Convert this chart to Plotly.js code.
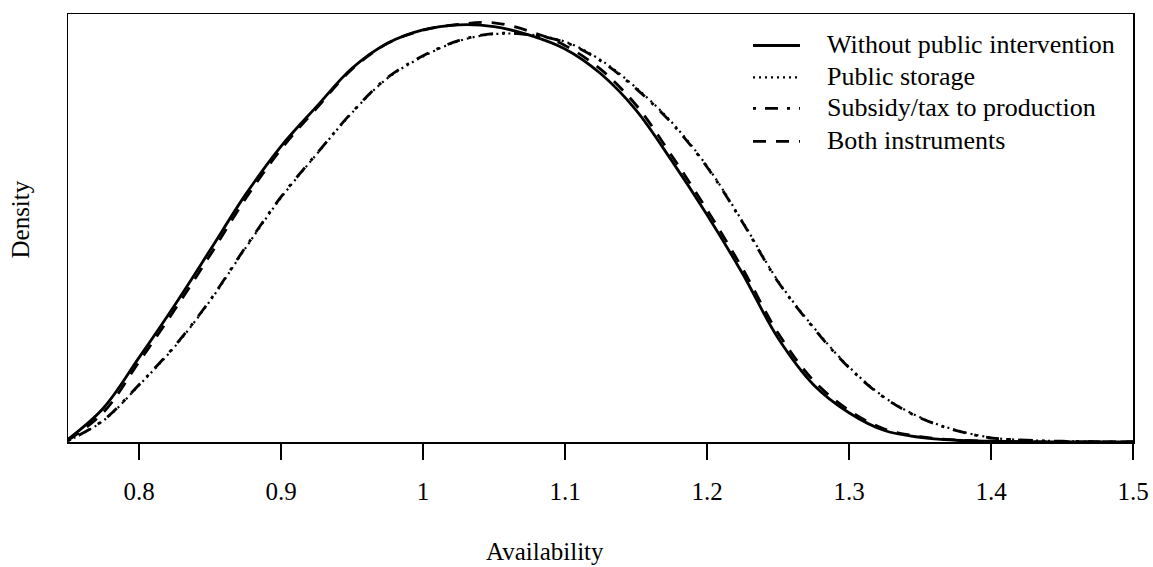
<!DOCTYPE html>
<html>
<head>
<meta charset="utf-8">
<script src="https://cdn.plot.ly/plotly-3.0.1.min.js"></script>
<style>
html,body{margin:0;padding:0;background:#fff;}
#chart{width:1153px;height:567px;}
</style>
</head>
<body>
<div id="chart"></div>
<script>
// Availability grid (x values)
const availability = [0.75,0.775,0.8,0.825,0.85,0.875,0.9,0.925,0.95,0.975,1.0,1.025,1.05,1.075,1.1,1.125,1.15,1.175,1.2,1.225,1.25,1.275,1.3,1.325,1.35,1.375,1.4,1.425,1.45,1.475,1.5];

// Density estimates
const withoutIntervention = [0.021,0.270,0.670,1.085,1.523,1.965,2.349,2.664,2.969,3.168,3.274,3.314,3.300,3.232,3.122,2.927,2.637,2.237,1.805,1.338,0.826,0.455,0.232,0.091,0.037,0.014,0.006,0.002,0.000,0.000,0.000];
const publicStorage = [0.010,0.170,0.450,0.755,1.120,1.540,1.940,2.285,2.615,2.890,3.062,3.185,3.240,3.236,3.180,3.036,2.815,2.542,2.192,1.752,1.280,0.912,0.596,0.355,0.196,0.096,0.035,0.015,0.006,0.002,0.000];
const subsidyTax = [0.010,0.174,0.455,0.761,1.126,1.547,1.947,2.289,2.619,2.895,3.068,3.189,3.245,3.234,3.175,3.029,2.807,2.534,2.185,1.745,1.273,0.906,0.590,0.351,0.192,0.093,0.033,0.014,0.006,0.002,0.000];
const bothInstruments = [0.014,0.236,0.636,1.048,1.483,1.932,2.325,2.651,2.961,3.167,3.271,3.318,3.330,3.263,3.150,2.962,2.677,2.277,1.845,1.378,0.866,0.488,0.252,0.103,0.043,0.016,0.006,0.002,0.000,0.000,0.000];

const seriesNames = ["Without public intervention","Public storage","Subsidy/tax to production","Both instruments"];
const tickVals = [0.8,0.9,1.0,1.1,1.2,1.3,1.4,1.5];
const tickLabels = ["0.8","0.9","1","1.1","1.2","1.3","1.4","1.5"];

const FONT = "Liberation Serif, Times New Roman, serif";
const styles = [
  {dash: "solid", width: 2.8},
  {dash: "2px,4px", width: 2.2},
  {dash: "3px,9px,13px,9px", width: 2.8},
  {dash: "13px,10px", width: 2.8}
];
const seriesValues = [withoutIntervention, publicStorage, subsidyTax, bothInstruments];

const data = seriesValues.map((y, i) => ({
  x: availability, y: y, name: seriesNames[i], type: "scatter", mode: "lines",
  line: {color: "#000", width: styles[i].width, dash: styles[i].dash, shape: "spline", smoothing: 1.0},
  hoverinfo: "skip", showlegend: false
}));

// Manual legend (top right, inside plot box)
const legRowY = [0.9264, 0.8517, 0.7793, 0.7023];
const shapes = [];
const annotations = [];
seriesNames.forEach((n, i) => {
  shapes.push({type: "line", xref: "paper", yref: "paper",
    x0: 0.6432, x1: 0.6873, y0: legRowY[i], y1: legRowY[i],
    line: {color: "#000", width: styles[i].width, dash: styles[i].dash}});
  annotations.push({text: n, xref: "paper", yref: "paper", x: 0.7108, y: legRowY[i] + 0.002,
    xanchor: "left", yanchor: "middle", showarrow: false,
    font: {family: FONT, size: 26, color: "#000"}});
});
annotations.push({text: "Availability", xref: "paper", yref: "paper", x: 0.448, y: -0.255,
  xanchor: "center", yanchor: "middle", showarrow: false,
  font: {family: FONT, size: 25, color: "#000"}});
annotations.push({text: "Density", xref: "paper", yref: "paper", x: -0.045, y: 0.52,
  xanchor: "center", yanchor: "middle", showarrow: false, textangle: -90,
  font: {family: FONT, size: 25, color: "#000"}});

const layout = {
  width: 1153, height: 567,
  margin: {l: 68, r: 20, t: 13.5, b: 125.3, pad: 0},
  paper_bgcolor: "#fff", plot_bgcolor: "#fff",
  font: {family: FONT, size: 25, color: "#000"},
  showlegend: false,
  xaxis: {range: [0.75, 1.5], tickvals: tickVals, ticktext: tickLabels,
    ticks: "outside", ticklen: 16, tickwidth: 1.5, tickcolor: "#000",
    showline: true, linecolor: "#000", linewidth: 1.5, mirror: true,
    showgrid: false, zeroline: false, ticklabelstandoff: 10,
    tickfont: {family: FONT, size: 25, color: "#000"}},
  yaxis: {range: [0, 3.4], showticklabels: false, ticks: "",
    showline: true, linecolor: "#000", linewidth: 1.5, mirror: true,
    showgrid: false, zeroline: false},
  shapes: shapes,
  annotations: annotations
};

Plotly.newPlot("chart", data, layout, {staticPlot: true, displayModeBar: false});
</script>
</body>
</html>
